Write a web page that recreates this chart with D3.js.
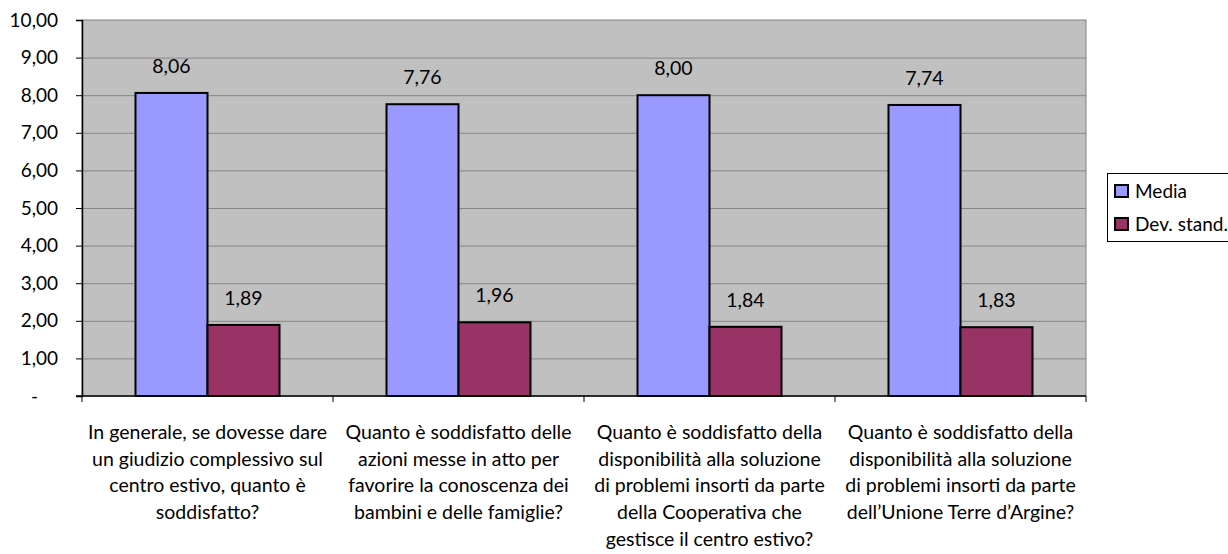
<!DOCTYPE html>
<html><head><meta charset="utf-8">
<script src="https://cdn.jsdelivr.net/npm/d3@7"></script>
<style>body{margin:0;background:#fff}svg{display:block}text{font-family:Lato,"Open Sans",sans-serif;fill:#000}</style>
</head><body><svg id="c" width="1228" height="554"></svg>
<script>
const categories = [
  ["In generale, se dovesse dare","un giudizio complessivo sul","centro estivo, quanto è","soddisfatto?"],
  ["Quanto è soddisfatto delle","azioni messe in atto per","favorire la conoscenza dei","bambini e delle famiglie?"],
  ["Quanto è soddisfatto della","disponibilità alla soluzione","di problemi insorti da parte","della Cooperativa che","gestisce il centro estivo?"],
  ["Quanto è soddisfatto della","disponibilità alla soluzione","di problemi insorti da parte","dell’Unione Terre d’Argine?"]
];
const seriesNames = ["Media","Dev. stand."];
const media = [8.06, 7.76, 8.00, 7.74];
const devStand = [1.89, 1.96, 1.84, 1.83];
const yTicks = [0,1,2,3,4,5,6,7,8,9,10];
const colors = ["#9999FF","#993366"];

const svg = d3.select("#c");
const L=82, R=1086, T=20, B=396;
const x = d3.scaleBand().domain(d3.range(categories.length)).range([L,R]).paddingInner(0).paddingOuter(0);
const inner = d3.scaleBand().domain([0,1]).range([0,x.bandwidth()]).paddingInner(0).paddingOuter(0.743);
const y = d3.scaleLinear().domain([0,10]).range([B,T]);
const fmt = v => v===0 ? "-" : d3.format(".2f")(v).replace(".",",");

svg.append("rect").attr("x",L).attr("y",T).attr("width",R-L).attr("height",B-T).attr("fill","#C0C0C0").attr("stroke","#808080").attr("stroke-width",1);
svg.append("g").selectAll("line").data(yTicks.slice(1,-1)).join("line")
  .attr("x1",L).attr("x2",R).attr("y1",d=>y(d)+0.5).attr("y2",d=>y(d)+0.5).attr("stroke","#868686").attr("stroke-width",1);

const data = [media, devStand];
const g = svg.append("g");
data.forEach((vals,s)=>{
  g.selectAll(null).data(vals).join("rect")
    .attr("x",(d,i)=>x(i)+inner(s)).attr("width",inner.bandwidth())
    .attr("y",d=>y(d)).attr("height",d=>B-y(d))
    .attr("fill",colors[s]).attr("stroke","#000").attr("stroke-width",2);
  g.selectAll(null).data(vals).join("text")
    .attr("x",(d,i)=>x(i)+inner(s)+inner.bandwidth()/2).attr("y",d=>y(d)-20)
    .attr("text-anchor","middle").attr("font-size",19.5).text(fmt);
});

const ya = svg.append("g").attr("transform",`translate(${L},0)`).call(d3.axisLeft(y).tickValues(yTicks).tickFormat(fmt).tickSize(6).tickPadding(18));
ya.select(".domain").attr("stroke","#000").attr("stroke-width",1.5);
ya.selectAll(".tick line").attr("stroke","#000");
ya.selectAll("text").attr("font-size",19).attr("font-family","Lato").attr("fill","#000");
ya.selectAll(".tick").filter(d=>d===0).select("text").attr("dx",-20);

const xa = svg.append("g").attr("transform",`translate(0,${B})`);
xa.append("line").attr("x1",L-6).attr("x2",R).attr("y1",0).attr("y2",0).attr("stroke","#000").attr("stroke-width",1.5);
xa.selectAll("line.t").data(d3.range(categories.length+1)).join("line").attr("class","t")
  .attr("x1",i=>L+i*x.bandwidth()).attr("x2",i=>L+i*x.bandwidth()).attr("y1",0).attr("y2",6).attr("stroke","#000");
categories.forEach((lines,i)=>{
  const t = xa.append("text").attr("text-anchor","middle").attr("font-size",19.5).attr("x",x(i)+x.bandwidth()/2).attr("y",43);
  lines.forEach((ln,k)=>t.append("tspan").attr("x",x(i)+x.bandwidth()/2).attr("dy",k?26.7:0).text(ln));
});

const lg = svg.append("g");
lg.append("rect").attr("x",1107.5).attr("y",173.5).attr("width",130).attr("height",68).attr("fill","#fff").attr("stroke","#000");
seriesNames.forEach((n,i)=>{
  lg.append("rect").attr("x",1115).attr("y",185+i*33).attr("width",13).attr("height",12).attr("fill",colors[i]).attr("stroke","#000").attr("stroke-width",2);
  lg.append("text").attr("x",1135).attr("y",198+i*33).attr("font-size",19).text(n);
});
</script></body></html>
